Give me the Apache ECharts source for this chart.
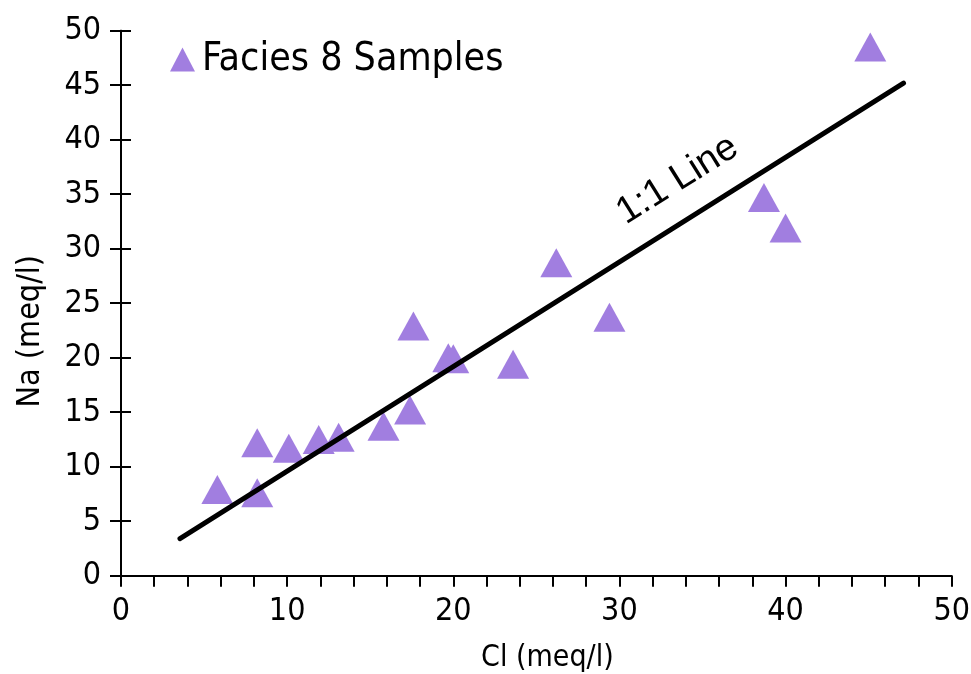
<!DOCTYPE html>
<html><head><meta charset="utf-8">
<script src="https://cdn.jsdelivr.net/npm/echarts@6/dist/echarts.min.js"></script>
<style>html,body{margin:0;padding:0;background:#fff}#c{width:971px;height:674px}</style>
</head><body><div id="c"></div>
<script>
const seriesName = 'Facies 8 Samples';
const clValues = [5.8, 8.2, 8.2, 10.1, 11.9, 13.1, 15.8, 17.4, 17.6, 19.7, 20.0, 23.6, 26.2, 29.4, 38.7, 40.0, 45.1];
const naValues = [7.9, 7.6, 12.2, 11.7, 12.5, 12.7, 13.7, 15.2, 22.9, 20.0, 19.9, 19.4, 28.7, 23.7, 34.7, 31.9, 48.5];
const lineCl = [3.55, 47.1];
const lineNa = [3.4, 45.2];
const lineLabel = '1:1 Line';
const lineLabelCl = [33.5];
const lineLabelNa = [36.3];
const xTitle = 'Cl (meq/l)';
const yTitle = 'Na (meq/l)';

const FONT = '"DejaVu Sans Condensed", "DejaVu Sans", sans-serif';
const PURPLE = '#a17ee0';

const chart = echarts.init(document.getElementById('c'), null, {renderer: 'canvas'});
const scatterData = clValues.map((v, i) => [v, naValues[i]]);
const lineData = lineCl.map((v, i) => [v, lineNa[i]]);
const labelData = lineLabelCl.map((v, i) => [v, lineLabelNa[i]]);

chart.setOption({
  backgroundColor: '#fff',
  animation: false,
  grid: {left: 121, right: 19.3, top: 30.7, bottom: 98.3, containLabel: false, outerBoundsMode: 'none'},
  legend: {
    data: [seriesName],
    left: 170, top: 40, padding: 0,
    itemWidth: 25, itemHeight: 24, itemGap: 10,
    icon: 'triangle',
    textStyle: {fontFamily: FONT, fontSize: 39, color: '#000', padding: [0, 0, 0, 2]}
  },
  xAxis: {
    type: 'value', min: 0, max: 50, interval: 10,
    name: xTitle, nameLocation: 'middle', nameGap: 68,
    nameTextStyle: {fontFamily: FONT, fontSize: 30, color: '#000', padding: [0, 0, 0, 22]},
    axisLine: {show: true, onZero: false, lineStyle: {color: '#000', width: 2}},
    axisTick: {show: true, inside: false, length: 11, lineStyle: {color: '#000', width: 2}},
    minorTick: {show: true, splitNumber: 5, length: 11, lineStyle: {color: '#000', width: 2}},
    axisLabel: {fontFamily: FONT, fontSize: 32, color: '#000', margin: 20},
    splitLine: {show: false}
  },
  yAxis: [{
    type: 'value', min: 0, max: 50, interval: 5, position: 'left',
    name: yTitle, nameLocation: 'middle', nameGap: 74,
    nameTextStyle: {fontFamily: FONT, fontSize: 32, color: '#000', padding: [0, 56, 0, 0]},
    axisLine: {show: true, onZero: false, lineStyle: {color: '#000', width: 2}},
    axisTick: {show: true, inside: false, length: 11, lineStyle: {color: '#000', width: 2}},
    axisLabel: {fontFamily: FONT, fontSize: 32, color: '#000', margin: 20},
    splitLine: {show: false}
  }, {
    type: 'value', min: 0, max: 50, interval: 5, position: 'left', offset: 0,
    axisLine: {show: true, onZero: false, lineStyle: {color: '#000', width: 2}},
    axisTick: {show: true, inside: true, length: 10, lineStyle: {color: '#000', width: 2}},
    axisLabel: {show: false},
    splitLine: {show: false}
  }],
  series: [{
    name: seriesName, type: 'scatter', data: scatterData,
    symbol: 'triangle', symbolSize: [32, 29],
    itemStyle: {color: PURPLE, opacity: 1}, z: 2
  }, {
    name: 'line', type: 'line', data: lineData, symbol: 'none',
    lineStyle: {color: '#000', width: 5, cap: 'round'}, z: 3
  }, {
    name: 'label', type: 'scatter', data: labelData, symbol: 'circle', symbolSize: 0.01,
    itemStyle: {color: '#ffffff', opacity: 1}, z: 4, silent: true,
    label: {show: true, position: 'inside', formatter: lineLabel, rotate: 32,
      fontFamily: '"Liberation Sans", Arial, sans-serif', fontSize: 38, color: '#000000',
      textBorderWidth: 0, opacity: 1}
  }]
});
</script></body></html>
